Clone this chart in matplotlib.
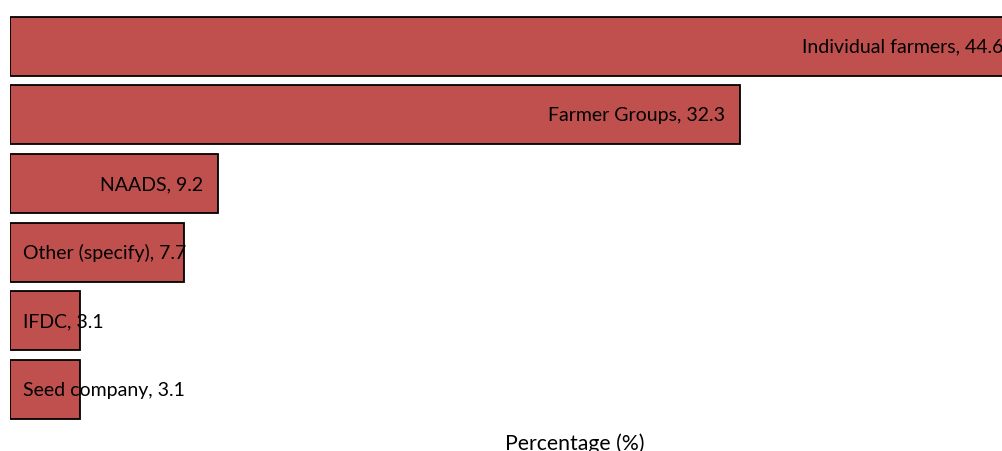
import matplotlib
matplotlib.use("Agg")
import matplotlib.pyplot as plt

categories = ["Individual farmers", "Farmer Groups", "NAADS", "Other (specify)", "IFDC", "Seed company"]
values = [44.6, 32.3, 9.2, 7.7, 3.1, 3.1]
xlabel = "Percentage (%)"

plt.rcParams['font.family'] = ['Lato', 'DejaVu Sans']

fig = plt.figure(figsize=(10.03, 4.52), dpi=100)
ax = fig.add_axes([10/1003, 0.0606, 1130/1003, 0.9106])
ypos = list(range(len(categories)))
ax.barh(ypos, values, height=0.86, color="#C0504D", edgecolor="black", linewidth=1.3)
ax.set_ylim(len(categories) - 0.5, -0.5)
ax.set_xlim(0, 50)
for s in ax.spines.values():
    s.set_visible(False)
ax.set_xticks([])
ax.set_yticks([])
ax.set_xlabel(xlabel, fontsize=15.3, labelpad=6)

fig.canvas.draw()
renderer = fig.canvas.get_renderer()
for y, c, v in zip(ypos, categories, values):
    label = f"{c}, {v}"
    t = ax.annotate(label, xy=(v, y), xytext=(-10.5, 0), textcoords="offset points",
                    ha="right", va="center", fontsize=14)
    bb = t.get_window_extent(renderer)
    x0 = ax.transData.transform((0, y))[0]
    if bb.x0 < x0 + 13:
        t.remove()
        ax.annotate(label, xy=(0, y), xytext=(9.5, 0), textcoords="offset points",
                    ha="left", va="center", fontsize=14)

fig.savefig("out.png", dpi=100)
